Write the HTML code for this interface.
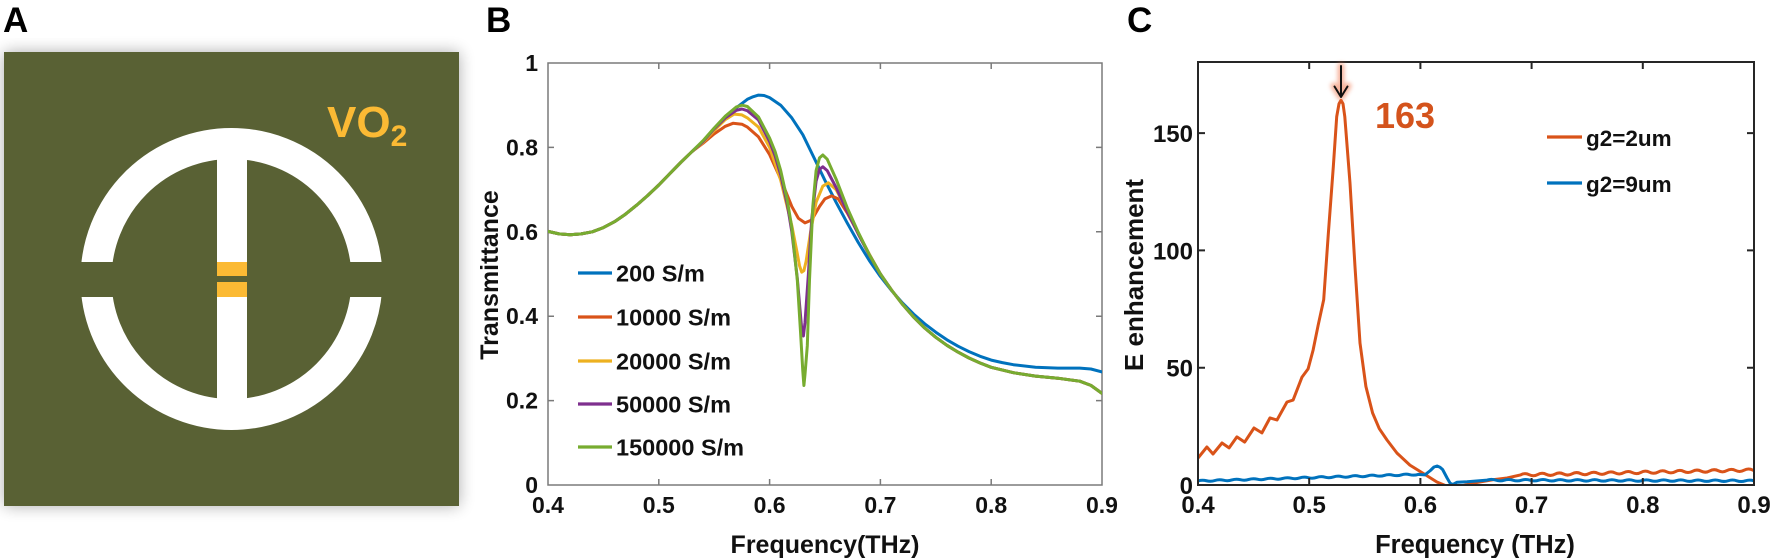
<!DOCTYPE html>
<html><head><meta charset="utf-8">
<style>
html,body{margin:0;padding:0;background:#fff;}
svg{display:block;font-family:"Liberation Sans",Arial,sans-serif;font-weight:bold;}
</style></head><body>
<svg width="1772" height="558" viewBox="0 0 1772 558" xmlns="http://www.w3.org/2000/svg">
<defs>
<filter id="sh" x="-20%" y="-20%" width="140%" height="140%"><feGaussianBlur stdDeviation="8"/></filter>
<filter id="gl" x="-200%" y="-50%" width="500%" height="200%"><feGaussianBlur stdDeviation="2.2"/></filter>
<clipPath id="cb"><rect x="548" y="63" width="554" height="422"/></clipPath>
<clipPath id="cc"><rect x="1198" y="62" width="556" height="423"/></clipPath>
</defs>

<!-- Panel A -->
<rect x="4" y="52" width="455" height="454" fill="#000" opacity="0.32" filter="url(#sh)"/>
<rect x="0" y="0" width="100" height="38" fill="#fff"/>
<rect x="4" y="52" width="455" height="454" fill="#596134"/>
<circle cx="231.5" cy="279" r="135.5" fill="none" stroke="#fff" stroke-width="31"/>
<rect x="68" y="262" width="58" height="35" fill="#596134"/>
<rect x="337" y="262" width="58" height="35" fill="#596134"/>
<rect x="217" y="150" width="30" height="260" fill="#fff"/>
<rect x="217" y="262" width="30" height="14" fill="#FBBA34"/>
<rect x="217" y="276" width="30" height="6" fill="#596134"/>
<rect x="217" y="282" width="30" height="15" fill="#FBBA34"/>
<text x="327" y="137" font-size="44" fill="#FBBA34">VO<tspan font-size="30" dy="9">2</tspan></text>
<text x="3" y="32" font-size="35" fill="#000">A</text>

<!-- Panel B -->
<text x="486" y="32" font-size="35" fill="#000">B</text>
<g stroke="#7a7a7a" stroke-width="1.5" fill="none">
<rect x="548" y="63" width="554" height="422"/>
<path d="M658.8 485V479M769.6 485V479M880.4 485V479M991.2 485V479
M658.8 63V69M769.6 63V69M880.4 63V69M991.2 63V69
M548 400.6H554M548 316.2H554M548 231.8H554M548 147.4H554
M1102 400.6H1096M1102 316.2H1096M1102 231.8H1096M1102 147.4H1096"/>
</g>
<g font-size="23" fill="#111" text-anchor="end">
<text x="538" y="493">0</text>
<text x="538" y="408.6">0.2</text>
<text x="538" y="324.2">0.4</text>
<text x="538" y="239.8">0.6</text>
<text x="538" y="155.4">0.8</text>
<text x="538" y="71">1</text>
</g>
<g font-size="23" fill="#111" text-anchor="middle">
<text x="548" y="513">0.4</text>
<text x="658.8" y="513">0.5</text>
<text x="769.6" y="513">0.6</text>
<text x="880.4" y="513">0.7</text>
<text x="991.2" y="513">0.8</text>
<text x="1102" y="513">0.9</text>
</g>
<text x="825" y="553" font-size="25" text-anchor="middle" fill="#111">Frequency(THz)</text>
<text transform="translate(498,275) rotate(-90)" font-size="25" text-anchor="middle" fill="#111">Transmittance</text>

<g clip-path="url(#cb)" fill="none" stroke-width="3" stroke-linejoin="round" stroke-linecap="round">
<!-- blue 200 -->
<path stroke="#0072BD" d="M548 231.4L559.1 233.9L570.2 234.8L581.2 233.9L592.3 231.8L603.4 227.6L614.5 221.7L625.6 214.1L636.6 205.2L647.7 195.5L658.8 185.0L669.9 173.6L681.0 162.2L692.0 151.6L703.1 141.1L714.2 129.3L725.3 117.9L736.4 107.7L747.4 99.3L753.0 96.8L758.5 95.1L764.1 95.5L769.6 97.6L780.7 105.2L791.8 117.9L802.8 134.7L813.9 157.5L824.9 180.3L836.1 202.3L847.2 222.9L858.2 242.4L869.3 260.5L880.4 276.5L891.5 290.5L902.6 303.1L913.6 314.1L924.7 323.8L935.8 332.2L946.9 339.8L958.0 346.2L969.0 351.6L980.1 356.3L991.2 360.1L1002.3 362.6L1013.4 364.7L1035.5 367.3L1057.7 368.1L1079.8 368.1L1090.9 369.0L1102 371.9"/>
<!-- orange 10000 -->
<path stroke="#D95319" d="M548 231.4L559.1 233.9L570.2 234.8L581.2 233.9L592.3 231.8L603.4 227.6L614.5 221.7L625.6 214.1L636.6 205.2L647.7 195.5L658.8 185.0L669.9 173.6L681.0 162.2L692.0 151.6L703.1 143.2L714.2 133.9L725.3 126.3L733.0 123.3L741.9 124.2L747.4 127.1L758.5 136.9L769.6 154.6L780.7 179.1L791.8 206.5L798.4 218.3L805.0 222.9L811.7 220.0L819.5 206.5L824.9 198.9L831.6 195.9L838.3 198.9L847.2 212.8L858.2 233.1L869.3 254.2L880.4 274.0L891.5 290.0L902.6 304.4L913.6 317.0L924.7 328.0L935.8 337.3L946.9 345.3L958.0 352.1L969.0 358.0L980.1 363.0L991.2 367.3L1013.4 372.7L1035.5 376.1L1057.7 378.2L1079.8 381.2L1090.9 385.4L1102 393.4"/>
<!-- yellow 20000 -->
<path stroke="#EDB120" d="M548 231.4L559.1 233.9L570.2 234.8L581.2 233.9L592.3 231.8L603.4 227.6L614.5 221.7L625.6 214.1L636.6 205.2L647.7 195.5L658.8 185.0L669.9 173.6L681.0 162.2L692.0 151.6L703.1 142.3L714.2 130.5L725.3 119.6L734.1 114.1L741.9 114.9L747.4 117.9L758.5 127.1L769.6 147.4L780.7 180.3L791.8 225.5L797.3 253.7L799.5 265.7L801.7 272.2L803.9 270.6L806.1 261.3L810.6 231.8L816.1 202.3L822.8 186.2L828.3 182.8L836.1 189.6L847.2 210.7L858.2 233.1L869.3 254.6L880.4 274.0L891.5 290.0L902.6 304.4L913.6 317.0L924.7 328.0L935.8 337.3L946.9 345.3L958.0 352.1L969.0 358.0L980.1 363.0L991.2 367.3L1013.4 372.7L1035.5 376.1L1057.7 378.2L1079.8 381.2L1090.9 385.4L1102 393.4"/>
<!-- purple 50000 -->
<path stroke="#7E2F8E" d="M548 231.4L559.1 233.9L570.2 234.8L581.2 233.9L592.3 231.8L603.4 227.6L614.5 221.7L625.6 214.1L636.6 205.2L647.7 195.5L658.8 185.0L669.9 173.6L681.0 162.2L692.0 151.6L703.1 141.5L714.2 128.8L725.3 117.9L736.4 110.3L741.9 109.0L747.4 110.7L758.5 120.0L769.6 141.5L775.1 155.8L780.7 174.8L787.3 204.4L791.8 231.8L797.3 278.2L800.6 316.2L802.0 332.0L803.4 336.0L805.0 322.5L808.4 274.0L811.7 219.1L816.1 181.2L819.5 169.3L822.8 166.8L827.2 170.6L836.1 187.5L847.2 211.5L858.2 233.9L869.3 255.0L880.4 274.0L891.5 290.0L902.6 304.4L913.6 317.0L924.7 328.0L935.8 337.3L946.9 345.3L958.0 352.1L969.0 358.0L980.1 363.0L991.2 367.3L1013.4 372.7L1035.5 376.1L1057.7 378.2L1079.8 381.2L1090.9 385.4L1102 393.4"/>
<!-- green 150000 -->
<path stroke="#77AC30" d="M548 231.4L559.1 233.9L570.2 234.8L581.2 233.9L592.3 231.8L603.4 227.6L614.5 221.7L625.6 214.1L636.6 205.2L647.7 195.5L658.8 185.0L669.9 173.6L681.0 162.2L692.0 151.6L703.1 140.6L714.2 128.0L725.3 116.2L736.4 106.9L741.9 105.2L747.4 106.5L758.5 117.0L769.6 138.1L775.1 151.6L780.7 170.6L787.3 200.2L791.8 227.6L797.3 279.9L800.6 333.1L802.8 371.1L803.9 385.5L805.0 374.4L807.3 345.7L809.5 279.9L812.8 206.5L816.1 170.6L819.5 157.9L822.8 155.0L827.2 159.2L836.1 179.1L847.2 207.7L858.2 232.2L869.3 254.6L880.4 274.0L891.5 290.0L902.6 304.4L913.6 317.0L924.7 328.0L935.8 337.3L946.9 345.3L958.0 352.1L969.0 358.0L980.1 363.0L991.2 367.3L1013.4 372.7L1035.5 376.1L1057.7 378.2L1079.8 381.2L1090.9 385.4L1102 393.4"/>
</g>

<g stroke-width="3.2">
<line x1="578" y1="273" x2="612" y2="273" stroke="#0072BD"/>
<line x1="578" y1="317" x2="612" y2="317" stroke="#D95319"/>
<line x1="578" y1="361" x2="612" y2="361" stroke="#EDB120"/>
<line x1="578" y1="404" x2="612" y2="404" stroke="#7E2F8E"/>
<line x1="578" y1="447" x2="612" y2="447" stroke="#77AC30"/>
</g>
<g font-size="23.5" fill="#111">
<text x="616" y="281.5">200 S/m</text>
<text x="616" y="325.5">10000 S/m</text>
<text x="616" y="369.5">20000 S/m</text>
<text x="616" y="412.5">50000 S/m</text>
<text x="616" y="455.5">150000 S/m</text>
</g>

<!-- Panel C -->
<text x="1127" y="32" font-size="35" fill="#000">C</text>
<g clip-path="url(#cc)" fill="none" stroke-width="3" stroke-linejoin="round" stroke-linecap="round">
<!-- orange g2=2um -->
<path stroke="#D95319" d="M1198 458.0L1206.9 447.0L1213.0 454.0L1222.0 443.0L1229.1 447.9L1236.9 436.9L1244.7 442.1L1254.0 428.0L1261.9 432.9L1270.0 417.9L1277.0 420.0L1287.0 402.0L1293.1 400.1L1302.0 377.1L1308.1 368.9L1313.1 350.1L1318.1 325.5L1323.7 299.7L1328.3 234.0L1333.3 166.9L1336.7 116.7L1339.0 103.8L1341.0 100.3L1343.0 103.8L1344.8 116.7L1350.0 183.1L1355.0 266.8L1360.0 343.1L1365.9 386.5L1372.6 413.0L1379.3 428.7L1387.0 440.0L1397.0 453.1L1409.9 465.1L1422.6 473.0L1436.9 482.0L1447.1 486.2L1460.0 486.2L1476.0 482.7L1492.7 479.8L1507.1 478.0L1520.5 474.9q4.3 -2.4 8.6 -0.18t8.6 -0.18t8.6 -0.18t8.6 -0.18t8.6 -0.18t8.6 -0.18t8.6 -0.18t8.6 -0.18t8.6 -0.18t8.6 -0.18t8.6 -0.18t8.6 -0.18t8.6 -0.18t8.6 -0.18t8.6 -0.18t8.6 -0.18t8.6 -0.18t8.6 -0.18t8.6 -0.18t8.6 -0.18t8.6 -0.18t8.6 -0.18t8.6 -0.18t8.6 -0.18t8.6 -0.18t8.6 -0.18t8.6 -0.18t8.6 -0.18"/>
<!-- blue g2=9um -->
<path stroke="#0072BD" d="M1198 481q4.23 -1.4 8.47 -0.254t8.47 -0.254t8.47 -0.254t8.47 -0.254t8.47 -0.254t8.47 -0.254t8.47 -0.254t8.47 -0.254t8.47 -0.254t8.47 -0.254t8.47 -0.254t8.47 -0.254t8.47 -0.254t8.47 -0.254t8.47 -0.254t8.47 -0.254t8.47 -0.254t8.47 -0.254t8.47 -0.254t8.47 -0.254t8.47 -0.254t8.47 -0.254t8.47 -0.254t8.47 -0.254t8.47 -0.254t8.47 -0.254L1424.8 474.9L1430.4 470.5L1434.0 467.0L1437.1 466.0L1440.0 467.2L1442.6 469.5L1447.1 478.0L1450.0 483.0L1452.0 484.5L1454.5 483.6L1457.1 482.2L1467.1 481.7L1487.1 480.1q4.3 -1.4 8.61 0.023t8.61 0.023t8.61 0.023t8.61 0.023t8.61 0.023t8.61 0.023t8.61 0.023t8.61 0.023t8.61 0.023t8.61 0.023t8.61 0.023t8.61 0.023t8.61 0.023t8.61 0.023t8.61 0.023t8.61 0.023t8.61 0.023t8.61 0.023t8.61 0.023t8.61 0.023t8.61 0.023t8.61 0.023t8.61 0.023t8.61 0.023t8.61 0.023t8.61 0.023t8.61 0.023t8.61 0.023t8.61 0.023t8.61 0.023t8.61 0.023"/>
</g>
<g stroke="#262626" stroke-width="2" fill="none">
<rect x="1198" y="62" width="556" height="423"/>
<path d="M1309.2 485V478M1420.4 485V478M1531.6 485V478M1642.8 485V478
M1309.2 62V69M1420.4 62V69M1531.6 62V69M1642.8 62V69
M1198 367.7H1205M1198 250.4H1205M1198 133.1H1205
M1754 367.7H1747M1754 250.4H1747M1754 133.1H1747"/>
</g>
<g font-size="24" fill="#111" text-anchor="end">
<text x="1193" y="494">0</text>
<text x="1193" y="376.7">50</text>
<text x="1193" y="259.4">100</text>
<text x="1193" y="142.1">150</text>
</g>
<g font-size="24" fill="#111" text-anchor="middle">
<text x="1198" y="513">0.4</text>
<text x="1309.2" y="513">0.5</text>
<text x="1420.4" y="513">0.6</text>
<text x="1531.6" y="513">0.7</text>
<text x="1642.8" y="513">0.8</text>
<text x="1754" y="513">0.9</text>
</g>
<text x="1475" y="553" font-size="25.5" text-anchor="middle" fill="#111">Frequency (THz)</text>
<text transform="translate(1143,275) rotate(-90)" font-size="26" text-anchor="middle" fill="#111">E enhancement</text>

<!-- arrow -->
<g fill="none" stroke-linecap="round" stroke-linejoin="round">
<path d="M1341 66V97M1334 86L1341 97L1348 86" stroke="#F07850" stroke-width="7" opacity="0.55" filter="url(#gl)"/>
<path d="M1341 66V97M1334.5 86.5L1341 97L1347.5 86.5" stroke="#111" stroke-width="2"/>
</g>
<text x="1375" y="128" font-size="36" fill="#D4531C">163</text>

<g stroke-width="3.2">
<line x1="1547" y1="137" x2="1582" y2="137" stroke="#D95319"/>
<line x1="1547" y1="183" x2="1582" y2="183" stroke="#0072BD"/>
</g>
<g font-size="22.5" fill="#111">
<text x="1586" y="146">g2=2um</text>
<text x="1586" y="192">g2=9um</text>
</g>
</svg>
</body></html>
